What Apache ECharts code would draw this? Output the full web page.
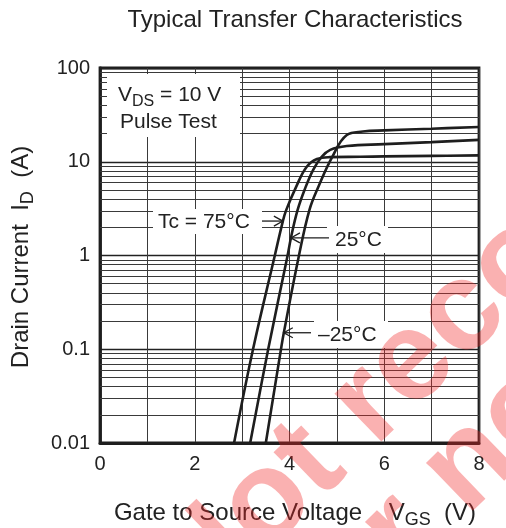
<!DOCTYPE html>
<html><head><meta charset="utf-8">
<script src="https://cdn.jsdelivr.net/npm/echarts/dist/echarts.min.js"></script>
<style>html,body{margin:0;padding:0;background:#fff}#c{width:506px;height:528px}</style>
</head><body><div id="c"></div>
<script>
// ---- data ----
const vgsM25 = [3.50, 3.82, 3.88, 4.20, 4.42, 4.61, 4.90, 5.21, 5.55, 6.0, 7.0, 8.0];
const idM25  = [0.01, 0.1, 0.15, 1.0, 3.05, 5.4, 11.2, 19.3, 21.0, 21.6, 22.5, 23.5];
const vgs25  = [3.17, 3.55, 3.96, 4.03, 4.17, 4.33, 4.50, 4.68, 4.86, 5.21, 6.0, 7.0, 8.0];
const id25   = [0.01, 0.1, 1.0, 1.54, 3.05, 5.2, 8.2, 11.3, 13.4, 14.7, 15.4, 16.2, 17.1];
const vgs75  = [2.83, 3.23, 3.69, 3.86, 3.93, 4.14, 4.36, 4.58, 4.85, 5.5, 6.0, 7.0, 8.0];
const id75   = [0.01, 0.1, 1.0, 2.33, 3.05, 5.4, 8.8, 10.7, 11.2, 11.3, 11.4, 11.55, 11.7];
const yTickLabels = ['0.01', '0.1', '1', '10', '100'];
const minorLevels = [0.02,0.03,0.04,0.05,0.06,0.07,0.08,0.09,
                     0.2,0.3,0.4,0.5,0.6,0.7,0.8,0.9,
                     2,3,4,5,6,7,8,9,
                     20,30,40,50,60,70,80,90];
const annTexts = ['Tc = 75°C', '25°C', '–25°C'];
const annTips  = [[3.86, 2.33], [4.03, 1.54], [3.88, 0.15]];

const zip = (a, b) => a.map((v, i) => [v, b[i]]);
const FF = '"Liberation Sans", Arial, sans-serif';
const INK = '#1e1e1e';

const chart = echarts.init(document.getElementById('c'), null, {renderer: 'canvas'});
const lineStyle = {color: INK, width: 2.6};
const mkSeries = (name, d) => ({
  name, type: 'line', data: d, showSymbol: false, smooth: 0.4,
  lineStyle, animation: false, z: 5
});

chart.setOption({
  animation: false,
  backgroundColor: '#fff',
  grid: {left: 100, right: 27, top: 68, bottom: 85, show: true, borderColor: INK, borderWidth: 2.8, backgroundColor: 'transparent'},
  xAxis: {
    type: 'value', min: 0, max: 8, interval: 1,
    axisLine: {show: true, lineStyle: {color: INK, width: 2.8}},
    axisTick: {show: false},
    axisLabel: {color: '#222', fontSize: 20, fontFamily: FF, margin: 11,
      formatter: v => (v % 2 === 0 ? String(v) : '')},
    splitLine: {show: true, lineStyle: {color: '#3a3a3a', width: 1}}
  },
  yAxis: {
    type: 'log', logBase: 10, min: 0.01, max: 100,
    axisLine: {show: true, lineStyle: {color: INK, width: 2.8}},
    axisTick: {show: false},
    axisLabel: {color: '#222', fontSize: 20, fontFamily: FF, margin: 10,
      formatter: v => yTickLabels[Math.round(Math.log10(v)) + 2]},
    splitLine: {show: true, lineStyle: {color: '#222', width: 1.3}},
    minorTick: {show: false}, minorSplitLine: {show: false}
  },
  series: [
    Object.assign(mkSeries('-25', zip(vgsM25, idM25)), {
      markLine: {silent: true, symbol: 'none', animation: false, label: {show: false},
        lineStyle: {type: 'solid', color: '#3a3a3a', width: 1},
        data: minorLevels.map(v => ({yAxis: v}))}
    }),
    mkSeries('25', zip(vgs25, id25)),
    mkSeries('75', zip(vgs75, id75))
  ]
});

const px = p => chart.convertToPixel({gridIndex: 0}, p);
const txt = (x, y, text, size, align, extra) => ({
  type: 'text', x, y, z: 110,
  style: Object.assign({text, fontSize: size, fontFamily: FF, fill: '#222',
    align, verticalAlign: 'middle', textAlign: align, textVerticalAlign: 'middle'}, extra || {})
});
const box = (x, y, w, h) => ({type: 'rect', z: 100, shape: {x, y, width: w, height: h}, style: {fill: '#fff'}});
const arrow = (tip, tailX, dir) => ([
  {type: 'line', z: 110, shape: {x1: tailX, y1: tip[1], x2: tip[0], y2: tip[1]}, style: {stroke: INK, lineWidth: 1.3}},
  {type: 'polyline', z: 110, shape: {points: [[tip[0] - dir * 9, tip[1] - 5], [tip[0], tip[1]], [tip[0] - dir * 9, tip[1] + 5]]},
    style: {stroke: INK, lineWidth: 1.3, fill: null}}
]);
const tips = annTips.map(px);
const subRich = {sub: {fontSize: 16, fontFamily: FF, fill: '#222', verticalAlign: 'bottom'}};
const subRich2 = {sub: {fontSize: 18, fontFamily: FF, fill: '#222', verticalAlign: 'bottom'}};

const g = [];
// legend-like box
g.push(box(107, 74, 133, 63));
g.push(txt(118, 95, 'V{sub|DS} = 10 V', 21, 'left', {rich: subRich, lineHeight: 30}));
g.push(txt(120, 122, 'Pulse Test', 21, 'left'));
// annotations
g.push(box(153, 209, 109, 25));
g.push(txt(158, 222, annTexts[0], 21, 'left'));
g.push(...arrow(tips[0], 262, 1));
g.push(box(327, 226, 61, 27));
g.push(txt(335, 240, annTexts[1], 21, 'left'));
g.push(...arrow(tips[1], 329, -1));
g.push(box(314, 321, 74, 27));
g.push(txt(318, 335, annTexts[2], 21, 'left'));
g.push(...arrow(tips[2], 311, -1));
// title and axis names
g.push(txt(295, 20, 'Typical Transfer Characteristics', 24, 'center'));
g.push(txt(295, 513, 'Gate to Source Voltage    V{sub|GS}  (V)', 24, 'center', {rich: subRich2, lineHeight: 32}));
g.push(Object.assign(txt(21, 257, 'Drain Current  I{sub|D}  (A)', 24, 'center', {rich: subRich2, lineHeight: 32}), {rotation: Math.PI / 2}));
// watermark
const wm = {fontSize: 127, fontWeight: 'bold', fontFamily: FF, fill: 'rgba(240,40,40,0.36)', align: 'left', verticalAlign: 'middle', textAlign: 'left', textVerticalAlign: 'middle'};
const rot = 44 * Math.PI / 180;
g.push({type: 'text', x: 173, y: 594, rotation: rot, z: 200, silent: true, style: Object.assign({text: 'Not recommended'}, wm)});
g.push({type: 'text', x: 295, y: 634, rotation: rot, z: 200, silent: true, style: Object.assign({text: 'for new design'}, wm)});

chart.setOption({graphic: g});
</script>
</body></html>
